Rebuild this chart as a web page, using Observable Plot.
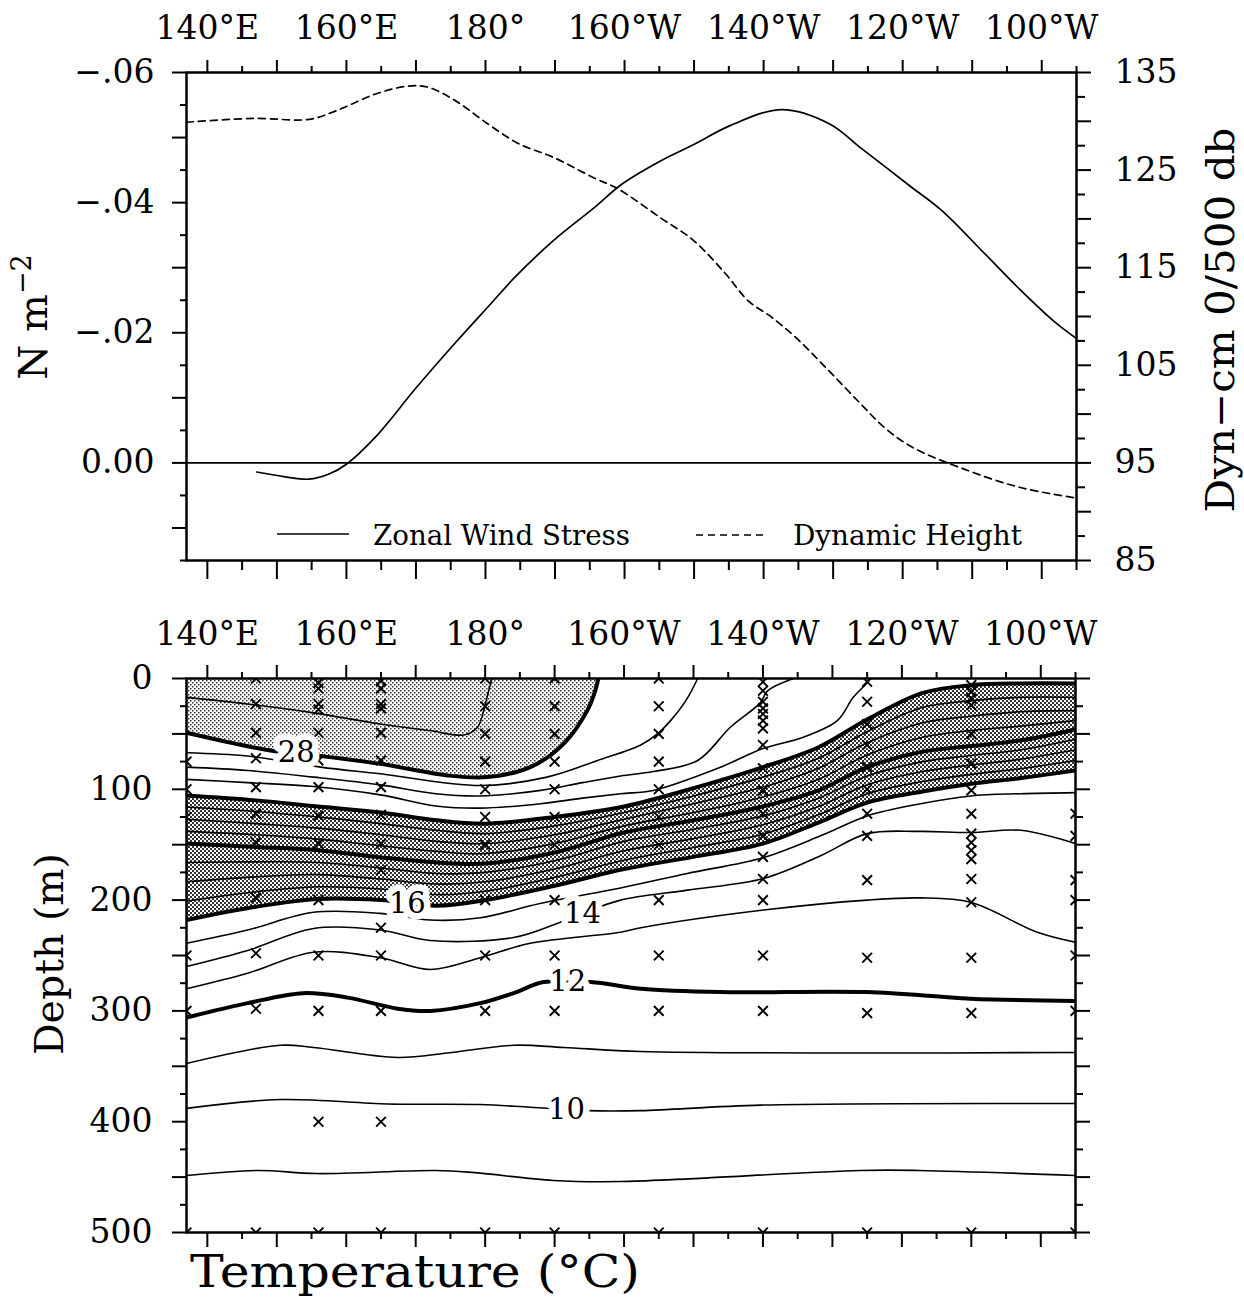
<!DOCTYPE html>
<html><head><meta charset="utf-8">
<script src="https://cdn.jsdelivr.net/npm/d3@7"></script>
<script src="https://cdn.jsdelivr.net/npm/@observablehq/plot@0.6"></script>
<style>
body{margin:0;background:#fff;}
#wrap{position:relative;width:1244px;height:1301px;overflow:hidden;background:#fff;}
</style></head><body><div id="wrap"></div>
<script>
// ---------------- Top panel data ----------------
const windLon = [147.1,151,154.6,157.5,160,164.2,170,175.7,180.8,184.2,189.8,195.6,199.7,205.5,210.1,215.1,222.6,229.5,234.1,241,245.6,251.4,257,261.6,265];
const windStress = [0.0014,0.0021,0.0025,0.0017,0.0002,-0.004,-0.0115,-0.0185,-0.0245,-0.0285,-0.0342,-0.0392,-0.0429,-0.0466,-0.049,-0.0518,-0.0543,-0.0521,-0.0483,-0.0426,-0.0388,-0.0326,-0.0265,-0.0219,-0.0191];
const dynLon = [137,146.6,154.6,158.6,164.2,168.8,171.7,175.7,180.2,184.8,189.8,195.6,199,205.2,209.9,214.5,217.8,221.2,224.7,229.3,233.9,237.4,241.4,248.3,256.8,265];
const dynHeight = [129.9,130.3,130.2,131.1,132.8,133.6,133.5,132.1,129.8,127.7,126.3,124.2,123.1,120.1,117.8,114.4,111.6,109.9,107.8,104.5,101.1,98.6,96.6,94.5,92.5,91.4];

// ---------------- Tick values / labels ----------------
const lonLabelTicks = [140,160,180,200,220,240,260];
const lonLabelText = ["140°E","160°E","180°","160°W","140°W","120°W","100°W"];
const lonMajorTicks = [140,150,160,170,180,190,200,210,220,230,240,250,260];
const lonMinorTicks = [145,155,165,175,185,195,205,215,225,235,245,255,265];
const stressLabelTicks = [-0.06,-0.04,-0.02,0];
const stressLabelText = ["\u2212.06","\u2212.04","\u2212.02","0.00"];
const stressMajorTicks = [-0.06,-0.05,-0.04,-0.03,-0.02,-0.01,0,0.01];
const stressMinorTicks = [-0.055,-0.045,-0.035,-0.025,-0.015,-0.005,0.005,0.015];
const dynLabelTicks = [85,95,105,115,125,135];
const dynMajorTicks = [85,90,95,100,105,110,115,120,125,130,135];
const dynMinorTicks = [87.5,92.5,97.5,102.5,107.5,112.5,117.5,122.5,127.5,132.5];
const depthLabelTicks = [0,100,200,300,400,500];
const depthMajorTicks = [0,50,100,150,200,250,300,350,400,450,500];
const depthMinorTicks = [25,75,125,175,225,275,325,375,425,475];

// ---------------- Isotherms (lon, depth m) ----------------
const t29Lon = [137,145.8,155.3,164.9,172,176.9,178.9,179.8,180.5,181];
const t29 = [17,23,31,41,47,51,44,29,11,0];
const t28Lon = [137,149.1,156.3,164.9,174.6,180.3,186.5,191.3,194.7,195.8,196.3];
const t28 = [49,65,70,77,87.5,89,80,59,29,12,0];
const t27Lon = [137,145.8,156.3,164.9,179.3,188.9,196.2,202.4,204.8,206.7,208.9,210.6];
const t27 = [67,70,80,86,96.6,89,74,60,50,38,20,0];
const t26Lon = [137,145.8,155.3,164.9,172.9,179.3,188,194,199.5,204.2,210.6,215.3,219.6,220.7,224.4];
const t26 = [80,83,89,96,104,106,101,94,88,84,74,44,22,11,0];
const t25Lon = [137,145.8,155.3,164.9,172.9,179.3,188,194,199.5,204.2,213.9,220.1,225.8,230.7,233,235,235.5];
const t25 = [91,94,97.5,105,115,117,113,108,104,101,80,63,53,38,17,4,0];
const gridLon = [137,147,156,165,173,180,190,200,210,220,228,235,243,250,257,265];
const t24 = [105.6,110,115.5,121,128,131,125,115.5,99,80,62,37,13,6,4.5,4.5];
const t23 = [116,120,125,131,137,140,133,121,106,89,72,48,26,20,17,17];
const t22 = [127,131,135,141,147,149,141,127,113,98,81,58,40,34,30,29];
const t21 = [138,141,145,151,156,158,149,133,121,107,91,69,53,47,43,38];
const t20 = [149,152,155,161.5,166,167,157,139,128,115.5,101,80,66,61,56,46];
const t19 = [166,165.5,166,171,176,175,164.5,147,136,124,108,88,75,69.5,64.5,55];
const t18 = [183.5,179,177,181,185.5,183.5,172,155.5,144.5,132,115.5,96,84,78,73,64.5];
const t17 = [201,192.5,188,190,195,192,179.5,164,152.5,140.5,123,104,93,86.5,81.5,74];
const t16 = [218,206,199,200,205,200,187,172,161,149,130,112,102,95,90,83];
const t15Lon = [137,145.8,155.3,164.9,172.1,179.3,187.9,199.5,209.1,220.1,228.3,235,242.7,249.9,257.1,265];
const t15 = [239,227,211,212,218,216,203,189,176,161.5,142,124,113,106,104,103];
const t14Lon = [137,145.8,155.3,164.9,172.1,184.1,190,194,199.5,209.1,220.1,228.3,235,242.7,249.9,257.1,265];
const t14 = [260,245.5,225.6,227,236.5,233.8,222,212,200,191,180.5,160,140,138,139,137,149];
const t13Lon = [137,145.8,155.3,164.9,172.1,179.3,186.5,199.5,202.4,220.1,235,242.7,249.9,259.5,265];
const t13 = [280,266,247,252,262.6,252,239,229,225,209,200,198,202,229,238];
const t12Lon = [137,145.8,153.8,160.2,167.4,172.1,179.3,184.1,188.4,195.2,202.4,213.9,235,249.9,265];
const t12 = [306,293,284,288,298,300,293,284,274,274,280,283,283,289,291];
const t11Lon = [137,150.5,155.3,167.4,174.6,184.1,191.3,202.4,233,265];
const t11 = [347.5,331,333,342,338,331,333,336.6,338,337.5];
const t10Lon = [137,150.5,166,179.3,186.5,194.7,202.4,219.7,265];
const t10 = [388,380,384,384.5,387,390,390,385,383.6];
const t9Lon = [137,147.2,155.7,172.9,178.5,189.8,199.5,233.9,242.5,265];
const t9 = [448.6,444,446.8,444,446,453,454,444,444,448.6];

// contour labels
const contourLabel = ["28","16","14","12","10"];
const contourLabelLon = [152.8,168.8,194,191.9,191.7];
const contourLabelDepth = [67,203,212,274,389];

// ---------------- Stations (x marks) ----------------
const stationLon = [137,147,156,165,180,190,205,220,235,250,265];
const st137 = [75,100,125,250,300,500];
const st147 = [0,23,49,72,98,122,148,198,248,298,500];
const st156 = [4,9,23,28,49,74,98,124,149,200,250,300,400,500];
const st165 = [2,9,23,27,49,74,98,123,149,173,225,250,300,400,500];
const st180 = [0,25,50,75,100,125,150,200,250,300,500];
const st190 = [0,25,50,75,100,125,150,200,250,300,500];
const st205 = [0,25,50,75,100,125,150,200,250,300,500];
const st220 = [3,11,21,27,32,38,45,60,81,101,122,142,161,181,200,250,300,500];
const st235 = [3,21,41,60,80,100,122,142,182,252,302,500];
const st250 = [6,12,18,24,50,77,101,122,140,148,155,163,181,202,252,302,500];
const st265 = [122,142,182,200,250,300,500];

// ---------------- Build tables ----------------
const FONT = "DejaVu Serif";
const wrap = document.getElementById("wrap");
const windRows = windLon.map((lon, i) => ({lon, v: windStress[i]}));
const dynRows = dynLon.map((lon, i) => ({lon, v: dynHeight[i]}));

const isotherms = [
  [29, t29Lon, t29], [28, t28Lon, t28], [27, t27Lon, t27], [26, t26Lon, t26], [25, t25Lon, t25],
  [24, gridLon, t24], [23, gridLon, t23], [22, gridLon, t22], [21, gridLon, t21], [20, gridLon, t20],
  [19, gridLon, t19], [18, gridLon, t18], [17, gridLon, t17], [16, gridLon, t16],
  [15, t15Lon, t15], [14, t14Lon, t14], [13, t13Lon, t13], [12, t12Lon, t12],
  [11, t11Lon, t11], [10, t10Lon, t10], [9, t9Lon, t9]
];
const isoRows = isotherms.flatMap(([t, lons, deps]) => lons.map((lon, i) => ({t, lon, depth: deps[i]})));
const thinRows = isoRows.filter(d => d.t % 4 !== 0);
const boldRows = isoRows.filter(d => d.t % 4 === 0);
const lightRows = t28Lon.map((lon, i) => ({lon, depth: t28[i]}));
const darkRows = gridLon.map((lon, i) => ({lon, top: t24[i], bottom: t16[i]}));
const stationDepths = [st137, st147, st156, st165, st180, st190, st205, st220, st235, st250, st265];
const stationRows = stationLon.flatMap((lon, i) => stationDepths[i].map(depth => ({lon, depth})));
const labelRows = contourLabel.map((text, i) => ({text, lon: contourLabelLon[i], depth: contourLabelDepth[i]}));

// ---------------- Axis helpers ----------------
const blank = () => "";
const lonFmt = d => lonLabelText[lonLabelTicks.indexOf(d)];
function ticksX(anchor, longSize, shortSize) {
  return [
    Plot.axisX({anchor, ticks: lonMajorTicks, tickSize: longSize, tickFormat: blank, label: null, strokeWidth: 2}),
    Plot.axisX({anchor, ticks: lonMinorTicks, tickSize: shortSize, tickFormat: blank, label: null, strokeWidth: 2})
  ];
}
function ticksY(anchor, major, minor, longSize, shortSize) {
  return [
    Plot.axisY({anchor, ticks: major, tickSize: longSize, tickFormat: blank, label: null, strokeWidth: 2}),
    Plot.axisY({anchor, ticks: minor, tickSize: shortSize, tickFormat: blank, label: null, strokeWidth: 2})
  ];
}
function lonLabels(pad) {
  return Plot.axisX({anchor: "top", ticks: lonLabelTicks, tickSize: 0, tickPadding: pad, tickFormat: lonFmt,
    label: null, fontSize: 33, fontFamily: FONT});
}
const baseStyle = `background: transparent; font-family: '${FONT}'; font-size: 33px; color: black; overflow: visible;`;

function place(el, top) {
  el.style.position = "absolute";
  el.style.left = "0px";
  el.style.top = top + "px";
  wrap.appendChild(el);
}

// ---------------- Top panel (wind stress, left axis) ----------------
const topA = Plot.plot({
  width: 1244, height: 600,
  marginTop: 72, marginBottom: 40, marginLeft: 186, marginRight: 168,
  style: baseStyle,
  x: {domain: [137, 265], axis: null, label: null},
  y: {domain: [0.015, -0.06], axis: null, label: null},
  marks: [
    Plot.ruleY([0], {strokeWidth: 1.6}),
    Plot.line(windRows, {x: "lon", y: "v", curve: "catmull-rom", strokeWidth: 1.7, clip: true}),
    ...ticksX("top", 13, 7),
    lonLabels(34),
    ...ticksX("bottom", 19, 10),
    ...ticksY("left", stressMajorTicks, stressMinorTicks, 14, 6),
    Plot.axisY({anchor: "left", ticks: stressLabelTicks, tickSize: 0, tickPadding: 32,
      tickFormat: d => stressLabelText[stressLabelTicks.indexOf(d)], label: null, fontSize: 33, fontFamily: FONT}),
    Plot.frame({strokeWidth: 2.5})
  ]
});
place(topA, 0);

// ---------------- Top panel overlay (dynamic height, right axis) ----------------
const topB = Plot.plot({
  width: 1244, height: 600,
  marginTop: 72, marginBottom: 40, marginLeft: 186, marginRight: 168,
  style: baseStyle,
  x: {domain: [137, 265], axis: null, label: null},
  y: {domain: [85, 135], axis: null, label: null},
  marks: [
    Plot.line(dynRows, {x: "lon", y: "v", curve: "catmull-rom", strokeWidth: 1.7, strokeDasharray: "7,5", clip: true}),
    ...ticksY("right", dynMajorTicks, dynMinorTicks, 14, 8),
    Plot.axisY({anchor: "right", ticks: dynLabelTicks, tickSize: 0, tickPadding: 38, tickFormat: d => String(d),
      label: null, fontSize: 33, fontFamily: FONT})
  ]
});
place(topB, 0);

// ---------------- Bottom panel (temperature section) ----------------
const bottom = Plot.plot({
  width: 1244, height: 680,
  marginTop: 88, marginBottom: 38, marginLeft: 186, marginRight: 169,
  style: baseStyle,
  x: {domain: [137, 265], axis: null, label: null},
  y: {domain: [500, 0], axis: null, label: null},
  marks: [
    Plot.areaY(lightRows, {x: "lon", y1: 0, y2: "depth", fill: "url(#pLight)", curve: "catmull-rom", clip: true}),
    Plot.areaY(darkRows, {x: "lon", y1: "top", y2: "bottom", fill: "url(#pDark)", curve: "catmull-rom", clip: true}),
    Plot.line(thinRows, {x: "lon", y: "depth", z: "t", curve: "catmull-rom", strokeWidth: 1.6, clip: true}),
    Plot.line(boldRows, {x: "lon", y: "depth", z: "t", curve: "catmull-rom", strokeWidth: 4, clip: true}),
    Plot.dot(stationRows, {x: "lon", y: "depth", symbol: "times", r: 4.5, stroke: "black", strokeWidth: 1.9, clip: true}),
    Plot.text(labelRows, {x: "lon", y: "depth", text: "text", fontSize: 29, fontFamily: FONT, fill: "black",
      stroke: "white", strokeWidth: 13, strokeLinejoin: "round", paintOrder: "stroke"}),
    ...ticksX("top", 14, 7),
    lonLabels(34),
    ...ticksX("bottom", 15, 7),
    ...ticksY("left", depthMajorTicks, depthMinorTicks, 14, 6),
    ...ticksY("right", depthMajorTicks, depthMinorTicks, 14, 7),
    Plot.axisY({anchor: "left", ticks: depthLabelTicks, tickSize: 0, tickPadding: 34, tickFormat: d => String(d),
      label: null, fontSize: 33, fontFamily: FONT}),
    Plot.frame({strokeWidth: 2.5})
  ]
});
(function addPatterns(svg) {
  const ns = "http://www.w3.org/2000/svg";
  const defs = document.createElementNS(ns, "defs");
  defs.innerHTML =
    '<pattern id="pLight" width="4" height="4" patternUnits="userSpaceOnUse">' +
      '<rect width="4" height="4" fill="#fff"/>' +
      '<rect x="0" y="0" width="1.5" height="1.5" fill="#333"/>' +
      '<rect x="2" y="2" width="1.5" height="1.5" fill="#333"/></pattern>' +
    '<pattern id="pDark" width="4" height="4" patternUnits="userSpaceOnUse">' +
      '<rect width="4" height="4" fill="#fff"/>' +
      '<rect x="0" y="0" width="2" height="2" fill="#333"/>' +
      '<rect x="2" y="2" width="2" height="2" fill="#333"/></pattern>';
  svg.insertBefore(defs, svg.firstChild);
})(bottom);
place(bottom, 590);

// ---------------- Titles & legend ----------------
const ann = document.createElement("div");
ann.innerHTML = `<svg xmlns="http://www.w3.org/2000/svg" width="1244" height="1301" style="position:absolute;left:0;top:0;font-family:'DejaVu Serif';">
  <text transform="translate(47,317) rotate(-90)" text-anchor="middle" font-size="40">N m<tspan font-size="27" dy="-16">\u22122</tspan></text>
  <text transform="translate(1234,320) rotate(-90)" text-anchor="middle" font-size="40" textLength="385" lengthAdjust="spacingAndGlyphs">Dyn\u2212cm 0/500 db</text>
  <text transform="translate(63,954) rotate(-90)" text-anchor="middle" font-size="40" textLength="202" lengthAdjust="spacingAndGlyphs">Depth (m)</text>
  <text x="190" y="1287" font-size="45" textLength="450" lengthAdjust="spacingAndGlyphs">Temperature (°C)</text>
  <line x1="277" y1="534" x2="349" y2="534" stroke="black" stroke-width="1.6"/>
  <text x="373" y="545" font-size="28" textLength="257" lengthAdjust="spacingAndGlyphs">Zonal Wind Stress</text>
  <line x1="696" y1="535" x2="765" y2="535" stroke="black" stroke-width="1.6" stroke-dasharray="7,5"/>
  <text x="793" y="545" font-size="28" textLength="229" lengthAdjust="spacingAndGlyphs">Dynamic Height</text>
</svg>`;
wrap.appendChild(ann.firstElementChild);
</script></body></html>
